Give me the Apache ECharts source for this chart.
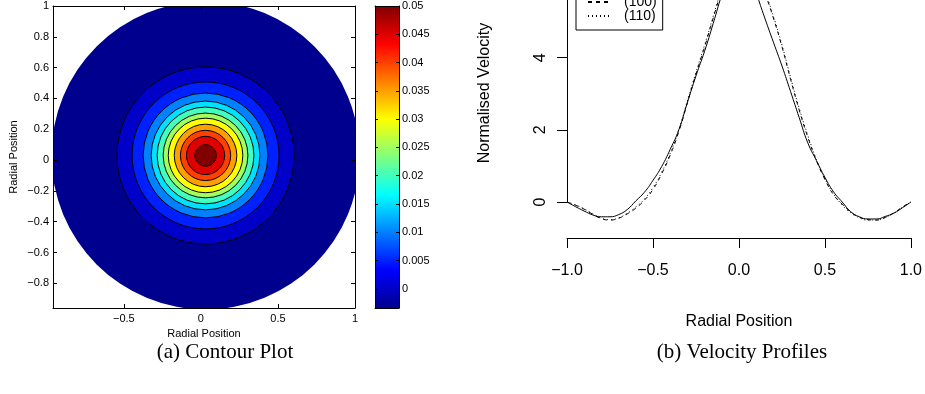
<!DOCTYPE html>
<html><head><meta charset="utf-8">
<script src="https://cdn.jsdelivr.net/npm/echarts@6/dist/echarts.min.js"></script>
<style>html,body{margin:0;padding:0;background:#fff}#c{width:925px;height:394px}</style>
</head><body><div id="c"></div>
<script>
// ---------- (a) Contour plot data ----------
const contourCenter = [0.03, 0.03];
const domainRadius = 1.0;
const colorRange = [-0.0034, 0.05];
const contourLevels = [0, 0.005, 0.01, 0.015, 0.02, 0.025, 0.03, 0.035, 0.04, 0.045, 0.05];
const contourRadii  = [0.575, 0.477, 0.405, 0.353, 0.314, 0.275, 0.242, 0.203, 0.163, 0.124, 0.070];
const contourXTicks = [-0.5, 0, 0.5, 1];
const contourYTicks = [-0.8, -0.6, -0.4, -0.2, 0, 0.2, 0.4, 0.6, 0.8, 1];
const colorbarTicks = [0, 0.005, 0.01, 0.015, 0.02, 0.025, 0.03, 0.035, 0.04, 0.045, 0.05];

// ---------- (b) Velocity profiles data ----------
const radialPosition = [-1, -0.95, -0.9, -0.85, -0.8, -0.75, -0.7, -0.65, -0.6, -0.55, -0.5, -0.45, -0.4, -0.35, -0.3, -0.25, -0.2, -0.15, -0.1, -0.05, 0,
  0.05, 0.1, 0.15, 0.2, 0.25, 0.3, 0.35, 0.4, 0.45, 0.5, 0.55, 0.6, 0.65, 0.7, 0.75, 0.8, 0.85, 0.9, 0.95, 1];
const profileNames = ['(111)', '(100)', '(110)'];
const velocitySolid = [0, -0.13, -0.25, -0.36, -0.41, -0.41, -0.35, -0.21, 0.03, 0.27, 0.6, 0.98, 1.46, 2.0, 2.76, 3.5, 4.18, 4.95, 5.75, 6.45, 6.75,
  6.5, 5.8, 5.1, 4.43, 3.77, 3.06, 2.34, 1.64, 1.15, 0.68, 0.28, 0.0, -0.27, -0.41, -0.47, -0.47, -0.4, -0.31, -0.16, 0];
const velocityDashed = [0, -0.09, -0.2, -0.34, -0.46, -0.5, -0.45, -0.33, -0.17, 0.05, 0.35, 0.78, 1.3, 1.95, 2.75, 3.55, 4.3, 5.1, 5.9, 6.7, 7.2,
  7.0, 6.4, 5.8, 5.1, 4.3, 3.4, 2.55, 1.8, 1.15, 0.62, 0.2, -0.06, -0.28, -0.42, -0.49, -0.5, -0.43, -0.3, -0.14, 0];
const velocityDotted = [0, -0.08, -0.19, -0.33, -0.45, -0.49, -0.44, -0.31, -0.14, 0.08, 0.4, 0.82, 1.35, 2.0, 2.8, 3.6, 4.35, 5.15, 5.95, 6.75, 7.25,
  7.05, 6.45, 5.85, 5.15, 4.35, 3.45, 2.6, 1.85, 1.18, 0.64, 0.22, -0.08, -0.3, -0.44, -0.5, -0.5, -0.43, -0.31, -0.15, 0];
const profileYTicks = [0, 2, 4];

// ---------- styling ----------
const jet = ['#00008f', '#0000ff', '#0080ff', '#00ffff', '#80ff80', '#ffff00', '#ff8000', '#ff0000', '#800000'];
const SANS = "'Liberation Sans', Arial, Helvetica, sans-serif";
const SERIF = "'Liberation Serif', 'Times New Roman', serif";
const minus = v => (v < 0 ? '\u2212' : '') + String(+Math.abs(v).toFixed(4));
const minus1 = v => (v < 0 ? '\u2212' : '') + Math.abs(v).toFixed(1);

const contourData = [[contourCenter[0], contourCenter[1], domainRadius, colorRange[0], 0]]
  .concat(contourLevels.map((l, i) => [contourCenter[0], contourCenter[1], contourRadii[i], l, 1]));

const boxAxis = (extra) => Object.assign({
  type: 'value', z: 5,
  axisLine: { show: true, onZero: false, lineStyle: { color: '#000', width: 1 } },
  splitLine: { show: false },
  axisTick: { show: true, inside: true, length: 4, lineStyle: { color: '#000' } },
  axisLabel: { show: false }
}, extra);

const chart = echarts.init(document.getElementById('c'), null, { renderer: 'canvas' });
chart.setOption({
  animation: false,
  backgroundColor: '#fff',
  grid: [
    { left: 53, top: 6, width: 302, height: 302 },
    { left: 375, top: 6, width: 24, height: 302 },
    { left: 567, top: 0, width: 344, height: 202 },
    { left: 567, top: 0, width: 344, height: 238 }
  ],
  visualMap: [{
    type: 'continuous', show: false, seriesIndex: 0, dimension: 3,
    min: colorRange[0], max: colorRange[1], inRange: { color: jet }
  }],
  xAxis: [
    boxAxis({ gridIndex: 0, position: 'bottom', min: -0.96, max: 1,
      axisTick: { show: true, inside: true, length: 4, customValues: contourXTicks, lineStyle: { color: '#000' } },
      axisLabel: { show: true, customValues: contourXTicks, formatter: minus, margin: 5, fontSize: 11, color: '#000', fontFamily: SANS },
      name: 'Radial Position', nameLocation: 'middle', nameGap: 16, nameTextStyle: { fontSize: 11, color: '#000', fontFamily: SANS } }),
    boxAxis({ gridIndex: 0, position: 'top', min: -0.96, max: 1,
      axisTick: { show: true, inside: true, length: 4, customValues: contourXTicks, lineStyle: { color: '#000' } } }),
    boxAxis({ gridIndex: 1, position: 'bottom', min: 0, max: 1, axisTick: { show: false } }),
    boxAxis({ gridIndex: 1, position: 'top', min: 0, max: 1, axisTick: { show: false } }),
    { type: 'value', gridIndex: 2, min: -1, max: 1, show: false },
    { type: 'value', gridIndex: 3, position: 'bottom', min: -1, max: 1, interval: 0.5,
      axisLine: { show: true, onZero: false, lineStyle: { color: '#000', width: 1 } },
      axisTick: { show: true, length: 10, lineStyle: { color: '#000' } },
      axisLabel: { show: true, formatter: minus1, margin: 25, fontSize: 16, color: '#000', fontFamily: SANS, showMinLabel: true, showMaxLabel: true },
      splitLine: { show: false },
      name: 'Radial Position', nameLocation: 'middle', nameGap: 76, nameTextStyle: { fontSize: 16, color: '#000', fontFamily: SANS } }
  ],
  yAxis: [
    boxAxis({ gridIndex: 0, position: 'left', min: -0.96, max: 1,
      axisTick: { show: true, inside: true, length: 4, customValues: contourYTicks, lineStyle: { color: '#000' } },
      axisLabel: { show: true, customValues: contourYTicks, formatter: minus, margin: 4, fontSize: 11, color: '#000', fontFamily: SANS },
      name: 'Radial Position', nameLocation: 'middle', nameGap: 34, nameTextStyle: { fontSize: 11, color: '#000', fontFamily: SANS } }),
    boxAxis({ gridIndex: 0, position: 'right', min: -0.96, max: 1,
      axisTick: { show: true, inside: true, length: 4, customValues: contourYTicks, lineStyle: { color: '#000' } } }),
    boxAxis({ gridIndex: 1, position: 'left', min: colorRange[0], max: colorRange[1],
      axisTick: { show: true, inside: true, length: 3, customValues: colorbarTicks, lineStyle: { color: '#000' } } }),
    boxAxis({ gridIndex: 1, position: 'right', min: colorRange[0], max: colorRange[1],
      axisTick: { show: true, inside: true, length: 3, customValues: colorbarTicks, lineStyle: { color: '#000' } },
      axisLabel: { show: true, customValues: colorbarTicks, formatter: minus, margin: 3, fontSize: 11, color: '#000', fontFamily: SANS } }),
    { type: 'value', gridIndex: 2, position: 'left', min: 0, max: 5.6,
      axisLine: { show: true, onZero: false, lineStyle: { color: '#000', width: 1 } },
      axisTick: { show: true, length: 10, customValues: profileYTicks, lineStyle: { color: '#000' } },
      axisLabel: { show: true, customValues: profileYTicks, rotate: 90, margin: 18, fontSize: 16, color: '#000', fontFamily: SANS },
      splitLine: { show: false } },
    { type: 'value', gridIndex: 3, position: 'left', min: 0, max: 1, show: false }
  ],
  legend: {
    data: profileNames, orient: 'vertical', left: 576, top: -23,
    backgroundColor: '#fff', borderColor: '#000', borderWidth: 1, borderRadius: 0,
    padding: [4, 6, 7, 11], itemWidth: 23, itemHeight: 16, itemGap: 0, selectedMode: false,
    itemStyle: { color: 'rgba(0,0,0,0)', borderColor: 'rgba(0,0,0,0)', borderWidth: 0, opacity: 0 },
    textStyle: { fontSize: 14, color: '#000', fontFamily: SANS, padding: [0, 0, 0, 8] }
  },
  series: [
    {
      type: 'custom', name: 'contour', xAxisIndex: 0, yAxisIndex: 0, clip: true, z: 2,
      data: contourData,
      renderItem: (params, api) => {
        const c = api.coord([api.value(0), api.value(1)]);
        const s = api.size([api.value(2), api.value(2)]);
        const outlined = api.value(4) === 1;
        return {
          type: 'circle',
          shape: { cx: c[0], cy: c[1], r: (s[0] + s[1]) / 2 },
          style: { fill: api.visual('color'), stroke: outlined ? '#000' : null, lineWidth: outlined ? 1 : 0 }
        };
      }
    },
    {
      type: 'custom', name: 'colorbar', xAxisIndex: 2, yAxisIndex: 2, z: 2,
      data: [[0, colorRange[0], 1, colorRange[1]]],
      renderItem: (params, api) => {
        const p0 = api.coord([api.value(0), api.value(1)]);
        const p1 = api.coord([api.value(2), api.value(3)]);
        return {
          type: 'rect',
          shape: { x: p0[0], y: p1[1], width: p1[0] - p0[0], height: p0[1] - p1[1] },
          style: { fill: new echarts.graphic.LinearGradient(0, 1, 0, 0, jet.map((col, i) => ({ offset: i / (jet.length - 1), color: col }))) }
        };
      }
    },
    { type: 'line', name: profileNames[0], xAxisIndex: 4, yAxisIndex: 4, clip: false, symbol: 'none', smooth: 0.5,
      data: radialPosition.map((x, i) => [x, velocitySolid[i]]), lineStyle: { color: '#000', width: 1, type: 'solid' }, itemStyle: { color: '#000' } },
    { type: 'line', name: profileNames[1], xAxisIndex: 4, yAxisIndex: 4, clip: false, symbol: 'none', smooth: 0.5,
      data: radialPosition.map((x, i) => [x, velocityDashed[i]]), lineStyle: { color: '#000', width: 1, type: [4, 4] }, itemStyle: { color: '#000' } },
    { type: 'line', name: profileNames[2], xAxisIndex: 4, yAxisIndex: 4, clip: false, symbol: 'none', smooth: 0.5,
      data: radialPosition.map((x, i) => [x, velocityDotted[i]]), lineStyle: { color: '#000', width: 1, type: [1, 3] }, itemStyle: { color: '#000' } }
  ],
  graphic: [
    { type: 'text', x: 485, y: 93, rotation: Math.PI / 2, style: { text: 'Normalised Velocity', font: '16px ' + SANS, fill: '#000', align: 'center', verticalAlign: 'middle', textAlign: 'center', textVerticalAlign: 'middle' } },
    { type: 'text', x: 225, y: 352, style: { text: '(a) Contour Plot', font: '21px ' + SERIF, fill: '#000', align: 'center', verticalAlign: 'middle', textAlign: 'center', textVerticalAlign: 'middle' } },
    { type: 'text', x: 742, y: 352, style: { text: '(b) Velocity Profiles', font: '21px ' + SERIF, fill: '#000', align: 'center', verticalAlign: 'middle', textAlign: 'center', textVerticalAlign: 'middle' } }
  ]
});
</script>
</body></html>
